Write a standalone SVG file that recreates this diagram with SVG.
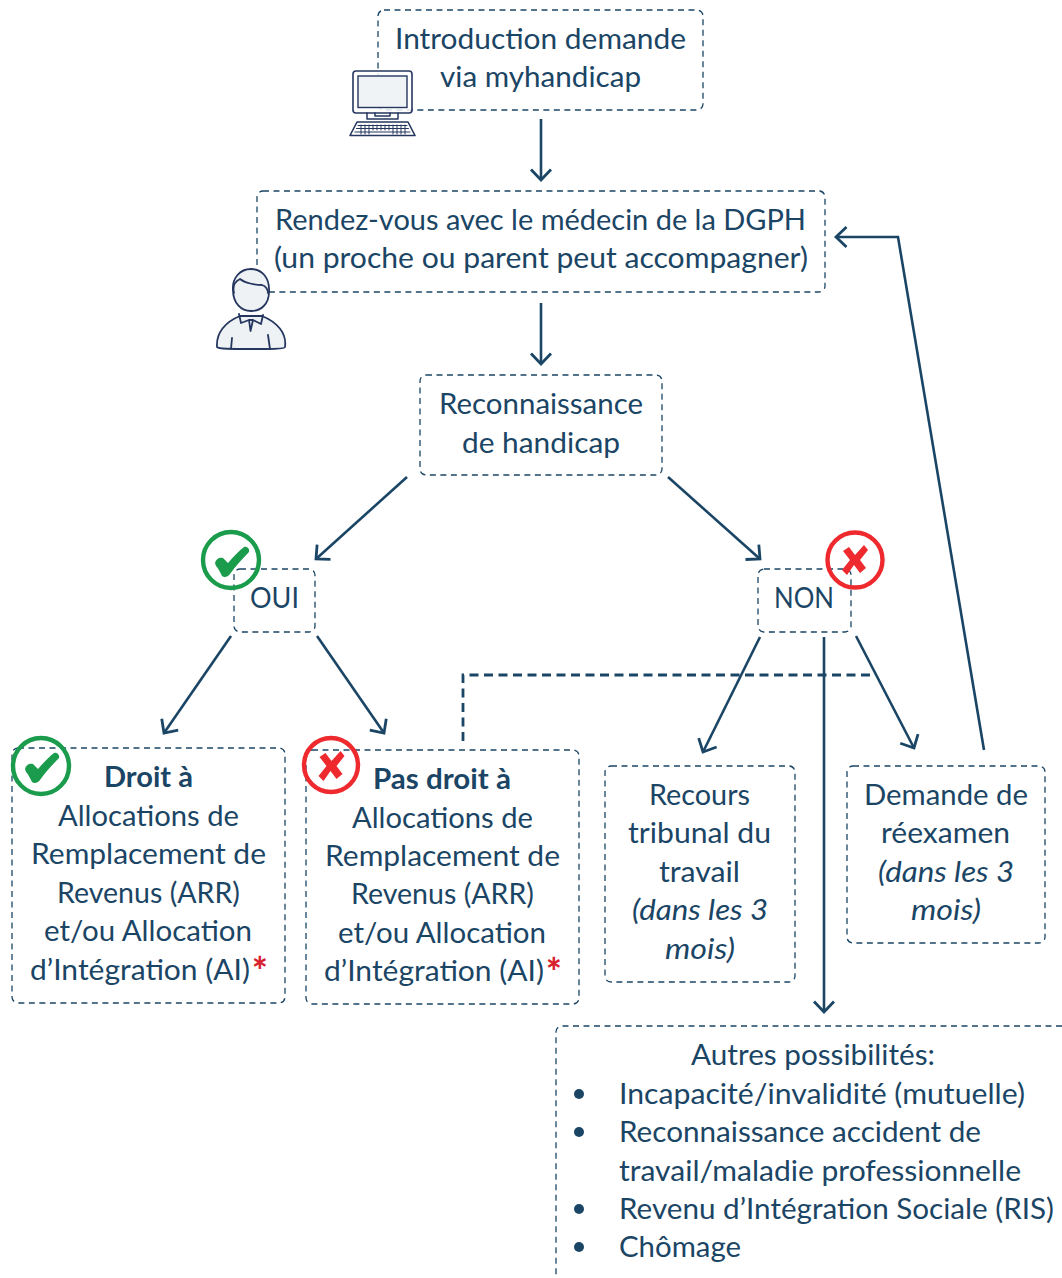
<svg xmlns="http://www.w3.org/2000/svg" width="1062" height="1278" viewBox="0 0 1062 1278">
<style>
text{font-family:"Lato","Carlito","Liberation Sans",sans-serif;font-size:28.6px;fill:#1b4565}
.b{font-weight:700}.i{font-style:italic}
.star{fill:#d8232f;font-weight:900;font-size:37px}
.box{fill:none;stroke:#1b4565;stroke-width:1.3;stroke-dasharray:6 4.5}
.c{fill:none;stroke:#1b4565;stroke-width:2.6;marker-end:url(#a)}
.ic{fill:#eef2f4;stroke:#25375f;stroke-width:1.8;stroke-linejoin:round;stroke-linecap:round}
.ln{fill:none;stroke:#25375f;stroke-width:1.8;stroke-linecap:round;stroke-linejoin:round}
.g{fill:none;stroke:#1b9c4d;stroke-width:4.4}
.r{fill:none;stroke:#ee2a2f;stroke-width:4.4}
.gf{fill:#1b9c4d}.rf{fill:#ee2a2f}
</style>
<defs>
<marker id="a" markerUnits="userSpaceOnUse" markerWidth="30" markerHeight="30" refX="24" refY="15" orient="auto"><path d="M13.500 5 L24 15 L13.500 25" fill="none" stroke="#1b4565" stroke-width="2.8"/></marker>
<path id="chk" d="M-16 3 C-15 -1 -12 -3 -8 -2 L-3 3 C2 -3 8 -9 13 -13 C16 -14 19 -11 18 -8 C11 -1 4 7 -1 14 C-3 17 -7 18 -9 16 C-11 12 -13 8 -15 6 Z"/>
<path id="xm" d="M-12 -9 L-6 -13 L0 -5 L9 -15 L13 -10 L5 0 L11 8 L5 13 L-1 5 L-8 15 L-13 10 L-5 0 Z"/>
</defs>

<g id="connectors">
<path class="c" d="M541 119V180"/>
<path class="c" d="M541 303V364"/>
<path class="c" d="M407 477L316 559"/>
<path class="c" d="M668 477L760 559"/>
<path class="c" d="M231 636L164 733"/>
<path class="c" d="M317 636L384 733"/>
<path class="c" d="M760 637L703 752"/>
<path class="c" d="M856 636L914 748"/>
<path class="c" d="M824 637V1012"/>
<path d="M463 741V675H872" fill="none" stroke="#1b4565" stroke-width="2.8" stroke-dasharray="9 5.5"/>
<path class="c" d="M984 750L898 237H836"/>
</g>

<g id="n-intro">
<rect class="box" x="378" y="10" width="325" height="100" rx="6"/>
<text x="395" y="49" textLength="291" lengthAdjust="spacingAndGlyphs">Introduction demande</text>
<text x="440" y="87" textLength="201" lengthAdjust="spacingAndGlyphs">via myhandicap</text>
<g id="computer">
<path d="M353 74a3 3 0 0 1 3-3h53a3 3 0 0 1 3 3v36a3 3 0 0 1-3 3h-53a3 3 0 0 1-3-3z" fill="#fff" fill-opacity=".85" stroke="#25375f" stroke-width="1.6"/>
<rect x="358" y="76" width="49" height="31.500" fill="#eef2f4" fill-opacity=".9" stroke="#25375f" stroke-width="1.4"/>
<path class="ln" style="stroke-width:1.500" d="M367 113V119H398V113M375 113V116H390V113" />
<path d="M357 122H408L415 135.500H350Z" fill="#fff" stroke="#25375f" stroke-width="1.6" stroke-linejoin="round"/>
<path class="ln" style="stroke-width:1" d="M358 125.500H407M356.500 128.500H408.500M355 132H410M361 125V134M365 125V134M369 125V134M373 125V130M377 125V130M381 125V130M385 125V130M389 125V130M393 125V134M397 125V134M401 125V134M405 125V134"/>
</g>
</g>

<g id="n-rdv">
<rect class="box" x="257" y="191" width="568" height="101" rx="6"/>
<text x="275" y="230" textLength="531" lengthAdjust="spacingAndGlyphs">Rendez-vous avec le médecin de la DGPH</text>
<text x="274" y="268" textLength="534" lengthAdjust="spacingAndGlyphs">(un proche ou parent peut accompagner)</text>
<g id="person">
<path class="ic" d="M217 347C216 333 225 322 240 316L262 316C277 322 287 333 285 347C285 349 270 349 251 349C232 349 218 349 217 347Z"/>
<path d="M233 290C232 278 240 269 251 269C262 269 270 278 269 292C269 304 261 311 251 311C241 311 233 303 233 290Z" fill="#eef2f4" stroke="#25375f" stroke-width="1.800"/>
<path class="ln" d="M234 293C232 285 236 281 240 279C245 283 255 285 262 285C266 286 268 290 268 293M239 314L241 323L249 320L253 320L261 324L263 315M249 320L250.500 331L253 320M232 338L231 349M268 335L270 349"/>
</g>
</g>

<g id="n-rec">
<rect class="box" x="420" y="375" width="242" height="100" rx="6"/>
<text x="439" y="414" textLength="204" lengthAdjust="spacingAndGlyphs">Reconnaissance</text>
<text x="462" y="453" textLength="158" lengthAdjust="spacingAndGlyphs">de handicap</text>
</g>

<g id="n-oui">
<rect class="box" x="234" y="569" width="81" height="63" rx="6"/>
<text x="250" y="608" textLength="49" lengthAdjust="spacingAndGlyphs">OUI</text>
<circle class="g" cx="231" cy="560" r="28"/>
<use href="#chk" class="gf" x="231" y="560"/>
</g>

<g id="n-non">
<rect class="box" x="758" y="569" width="93" height="63" rx="6"/>
<text x="774" y="608" textLength="60" lengthAdjust="spacingAndGlyphs">NON</text>
<circle class="r" cx="855" cy="560" r="27.500"/>
<use href="#xm" class="rf" x="855" y="560"/>
</g>

<g id="n-droit">
<rect class="box" x="12" y="748" width="273" height="255" rx="6"/>
<text class="b" x="104" y="787" textLength="89" lengthAdjust="spacingAndGlyphs">Droit à</text>
<text x="58" y="826" textLength="181" lengthAdjust="spacingAndGlyphs">Allocations de</text>
<text x="31" y="864" textLength="235" lengthAdjust="spacingAndGlyphs">Remplacement de</text>
<text x="57" y="903" textLength="183" lengthAdjust="spacingAndGlyphs">Revenus (ARR)</text>
<text x="44" y="941" textLength="208" lengthAdjust="spacingAndGlyphs">et/ou Allocation</text>
<text x="30" y="980" textLength="220" lengthAdjust="spacingAndGlyphs">d’Intégration (AI)</text>
<text class="star" x="252" y="985">*</text>
<circle class="g" cx="41" cy="766" r="28"/>
<use href="#chk" class="gf" x="41" y="766"/>
</g>

<g id="n-pas">
<rect class="box" x="306" y="750" width="273" height="254" rx="6"/>
<text class="b" x="373" y="789" textLength="138" lengthAdjust="spacingAndGlyphs">Pas droit à</text>
<text x="352" y="828" textLength="181" lengthAdjust="spacingAndGlyphs">Allocations de</text>
<text x="325" y="866" textLength="235" lengthAdjust="spacingAndGlyphs">Remplacement de</text>
<text x="351" y="904" textLength="183" lengthAdjust="spacingAndGlyphs">Revenus (ARR)</text>
<text x="338" y="943" textLength="208" lengthAdjust="spacingAndGlyphs">et/ou Allocation</text>
<text x="324" y="981" textLength="220" lengthAdjust="spacingAndGlyphs">d’Intégration (AI)</text>
<text class="star" x="546" y="986">*</text>
<circle class="r" cx="331" cy="765" r="27"/>
<use href="#xm" class="rf" x="331.500" y="766"/>
</g>

<g id="n-recours">
<rect class="box" x="605" y="766" width="190" height="216" rx="6"/>
<text x="649" y="805" textLength="101" lengthAdjust="spacingAndGlyphs">Recours</text>
<text x="628" y="843" textLength="143" lengthAdjust="spacingAndGlyphs">tribunal du</text>
<text x="659" y="882" textLength="81" lengthAdjust="spacingAndGlyphs">travail</text>
<text class="i" x="632" y="920" textLength="136" lengthAdjust="spacingAndGlyphs">(dans les 3</text>
<text class="i" x="665" y="959" textLength="70" lengthAdjust="spacingAndGlyphs">mois)</text>
</g>

<g id="n-reexamen">
<rect class="box" x="847" y="766" width="198" height="177" rx="6"/>
<text x="864" y="805" textLength="164" lengthAdjust="spacingAndGlyphs">Demande de</text>
<text x="881" y="843" textLength="129" lengthAdjust="spacingAndGlyphs">réexamen</text>
<text class="i" x="878" y="882" textLength="136" lengthAdjust="spacingAndGlyphs">(dans les 3</text>
<text class="i" x="911" y="920" textLength="70" lengthAdjust="spacingAndGlyphs">mois)</text>
</g>

<g id="n-autres">
<path class="box" d="M1062 1026H562a6 6 0 0 0-6 6V1278"/>
<text x="691" y="1065" textLength="244" lengthAdjust="spacingAndGlyphs">Autres possibilités:</text>
<circle cx="579" cy="1094" r="5" fill="#1b4565"/>
<text x="619" y="1104" textLength="406" lengthAdjust="spacingAndGlyphs">Incapacité/invalidité (mutuelle)</text>
<circle cx="579" cy="1132" r="5" fill="#1b4565"/>
<text x="619" y="1142" textLength="362" lengthAdjust="spacingAndGlyphs">Reconnaissance accident de</text>
<text x="619" y="1181" textLength="402" lengthAdjust="spacingAndGlyphs">travail/maladie professionnelle</text>
<circle cx="579" cy="1209" r="5" fill="#1b4565"/>
<text x="619" y="1219" textLength="435" lengthAdjust="spacingAndGlyphs">Revenu d’Intégration Sociale (RIS)</text>
<circle cx="579" cy="1247" r="5" fill="#1b4565"/>
<text x="619" y="1257" textLength="122" lengthAdjust="spacingAndGlyphs">Chômage</text>
</g>
</svg>
